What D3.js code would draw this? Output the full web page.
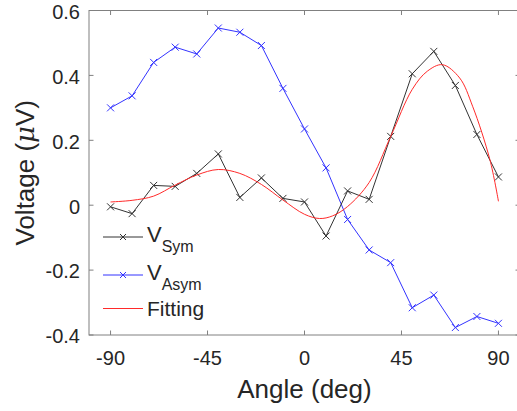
<!DOCTYPE html>
<html>
<head>
<meta charset="utf-8">
<script src="https://cdn.jsdelivr.net/npm/d3@7"></script>
<style>
  body { margin: 0; background: #fff; }
  svg { display: block; font-family: "Liberation Sans", Arial, sans-serif; }
</style>
</head>
<body>
<script>
// angles (deg)
const angles = [-90, -80, -70, -60, -50, -40, -30, -20, -10, 0, 10, 20, 30, 40, 50, 60, 70, 80, 90];
// V_Sym
const vSym = [-0.005, -0.026, 0.061, 0.058, 0.098, 0.158, 0.024, 0.084, 0.021, 0.010, -0.095, 0.044, 0.018, 0.212, 0.405, 0.474, 0.369, 0.218, 0.087];
// V_Asym
const vAsym = [0.300, 0.337, 0.440, 0.487, 0.466, 0.546, 0.533, 0.492, 0.360, 0.235, 0.115, -0.044, -0.138, -0.177, -0.316, -0.277, -0.377, -0.343, -0.364];
// Fitting curve
const fitAngles = [-90, -80, -70, -60, -50, -40, -30, -20, -10, 0, 7, 13, 20, 30, 40, 50, 57, 64, 72, 78, 86, 90];
const fitValues = [0.010, 0.015, 0.028, 0.062, 0.093, 0.110, 0.098, 0.064, 0.016, -0.028, -0.041, -0.033, -0.004, 0.070, 0.212, 0.357, 0.413, 0.433, 0.392, 0.305, 0.141, 0.012];

const xTicks = [-90, -45, 0, 45, 90];
const yTicks = [-0.4, -0.2, 0, 0.2, 0.4, 0.6];

const W = 517, H = 411;
const box = { left: 89, right: 520, top: 10.5, bottom: 335 };

const svg = d3.select('body').append('svg').attr('width', W).attr('height', H);

const x = d3.scaleLinear().domain([-100, 100]).range([box.left, box.right]);
const y = d3.scaleLinear().domain([-0.4, 0.6]).range([box.bottom, box.top]);

const axisCol = '#808080', textCol = '#262626';

// box
svg.append('rect')
  .attr('x', box.left).attr('y', box.top)
  .attr('width', box.right - box.left).attr('height', box.bottom - box.top)
  .attr('fill', 'none').attr('stroke', axisCol).attr('stroke-width', 1);

// ticks (inward, on all sides)
const tk = 4.5;
xTicks.forEach(t => {
  svg.append('line').attr('x1', x(t)).attr('x2', x(t)).attr('y1', box.bottom).attr('y2', box.bottom - tk).attr('stroke', axisCol);
  svg.append('line').attr('x1', x(t)).attr('x2', x(t)).attr('y1', box.top).attr('y2', box.top + tk).attr('stroke', axisCol);
  svg.append('text').attr('x', x(t)).attr('y', 365).attr('text-anchor', 'middle')
    .attr('font-size', 20).attr('fill', textCol).text(t);
});
yTicks.forEach(t => {
  svg.append('line').attr('x1', box.left).attr('x2', box.left + tk).attr('y1', y(t)).attr('y2', y(t)).attr('stroke', axisCol);
  svg.append('line').attr('x1', box.right).attr('x2', box.right - tk).attr('y1', y(t)).attr('y2', y(t)).attr('stroke', axisCol);
  svg.append('text').attr('x', 80).attr('y', y(t) + 8.3).attr('text-anchor', 'end')
    .attr('font-size', 20).attr('fill', textCol).text(t);
});

// axis labels
svg.append('text').attr('x', (box.left + box.right) / 2).attr('y', 398).attr('text-anchor', 'middle')
  .attr('font-size', 26).attr('fill', textCol).text('Angle (deg)');
const yl = svg.append('text').attr('transform', `translate(34,${(box.top + box.bottom) / 2}) rotate(-90)`)
  .attr('text-anchor', 'middle').attr('font-size', 26).attr('fill', textCol);
yl.append('tspan').text('Voltage (');
yl.append('tspan').attr('font-style', 'italic').attr('font-family', '"DejaVu Serif", serif').text('μ');
yl.append('tspan').text('V)');

const clip = svg.append('clipPath').attr('id', 'clip').append('rect')
  .attr('x', box.left).attr('y', box.top).attr('width', box.right - box.left).attr('height', box.bottom - box.top);
const plot = svg.append('g').attr('clip-path', 'url(#clip)');

const line = d3.line().x(d => x(d[0])).y(d => y(d[1]));

function drawSeries(vals, col) {
  const pts = angles.map((a, i) => [a, vals[i]]);
  plot.append('path').datum(pts).attr('d', line).attr('fill', 'none').attr('stroke', col).attr('stroke-width', 1);
  plot.selectAll(null).data(pts).enter().append('path')
    .attr('d', d => { const cx = x(d[0]), cy = y(d[1]), s = 3.5; return `M${cx - s},${cy - s}L${cx + s},${cy + s}M${cx - s},${cy + s}L${cx + s},${cy - s}`; })
    .attr('stroke', col).attr('stroke-width', 1);
}

const symCol = '#333333', asymCol = '#3333ff', fitCol = '#ff2a2a';
drawSeries(vAsym, asymCol);
drawSeries(vSym, symCol);

const fitPts = fitAngles.map((a, i) => [a, fitValues[i]]);
plot.append('path').datum(fitPts)
  .attr('d', d3.line().x(d => x(d[0])).y(d => y(d[1])).curve(d3.curveCatmullRom.alpha(0.5)))
  .attr('fill', 'none').attr('stroke', fitCol).attr('stroke-width', 1);

// legend (no box)
const legend = [
  { main: 'V', sub: 'Sym', col: symCol, marker: true, y: 237, base: 5 },
  { main: 'V', sub: 'Asym', col: asymCol, marker: true, y: 275, base: 5 },
  { main: 'Fitting', sub: null, col: fitCol, marker: false, y: 308.5, base: 7.5 }
];
legend.forEach(l => {
  svg.append('line').attr('x1', 103).attr('x2', 143).attr('y1', l.y).attr('y2', l.y).attr('stroke', l.col);
  if (l.marker) {
    const s = 3;
    svg.append('path').attr('d', `M${123 - s},${l.y - s}L${123 + s},${l.y + s}M${123 - s},${l.y + s}L${123 + s},${l.y - s}`)
      .attr('stroke', l.col);
  }
  const t = svg.append('text').attr('x', 147).attr('y', l.y + l.base).attr('font-size', l.sub ? 22 : 21).attr('fill', textCol);
  t.append('tspan').text(l.main);
  if (l.sub) t.append('tspan').attr('font-size', 16).attr('dy', 10).text(l.sub);
});
</script>
</body>
</html>
